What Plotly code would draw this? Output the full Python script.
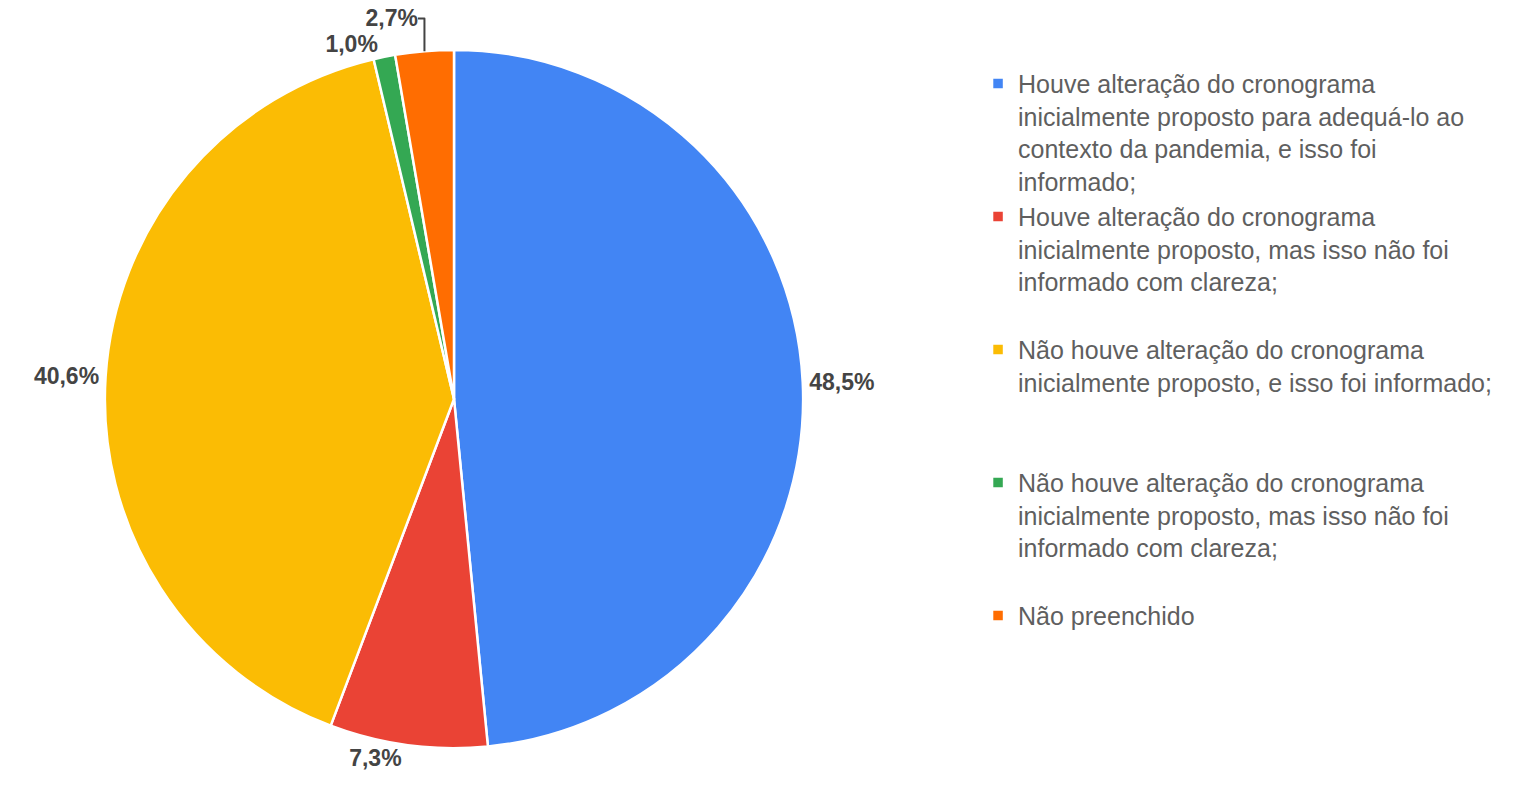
import plotly.graph_objects as go

labels = [
    "Houve alteração do cronograma<br>inicialmente proposto para adequá-lo ao<br>contexto da pandemia, e isso foi<br>informado;",
    "Houve alteração do cronograma<br>inicialmente proposto, mas isso não foi<br>informado com clareza;<br> ",
    "Não houve alteração do cronograma<br>inicialmente proposto, e isso foi informado;<br> <br> ",
    "Não houve alteração do cronograma<br>inicialmente proposto, mas isso não foi<br>informado com clareza;<br> ",
    "Não preenchido<br> <br> <br> ",
]
values = [48.5, 7.3, 40.6, 1.0, 2.7]
colors = ["#4285F4", "#EA4335", "#FBBC04", "#34A853", "#FF6D01"]

W, H = 1527, 795
cx, cy, r = 454, 398, 350

label_font = dict(family="Liberation Sans, Arial, sans-serif", size=23, color="#444444", weight="bold")

fig = go.Figure(go.Pie(
    labels=labels,
    values=values,
    sort=False,
    direction="clockwise",
    rotation=0,
    marker=dict(colors=colors, line=dict(color="white", width=2.5)),
    textposition="outside",
    texttemplate="%{percent:.1%}",
    textfont=label_font,
    outsidetextfont=label_font,
    domain=dict(x=[(cx - r) / W, (cx + r) / W], y=[(H - cy - r) / H, (H - cy + r) / H]),
    hoverinfo="label+percent",
))

fig.update_layout(
    width=W, height=H,
    margin=dict(l=0, r=0, t=0, b=0),
    paper_bgcolor="white",
    separators=",.",
    showlegend=True,
    legend=dict(
        x=0.6405, y=1 - 59 / H, xanchor="left", yanchor="top",
        valign="top",
        font=dict(family="Liberation Sans, Arial, sans-serif", size=25, color="#5f5f5f"),
        bgcolor="rgba(0,0,0,0)",
    ),
)

fig.write_html(
    "out.html",
    config={"displayModeBar": False},
    post_script="document.body.style.margin='0';",
)
